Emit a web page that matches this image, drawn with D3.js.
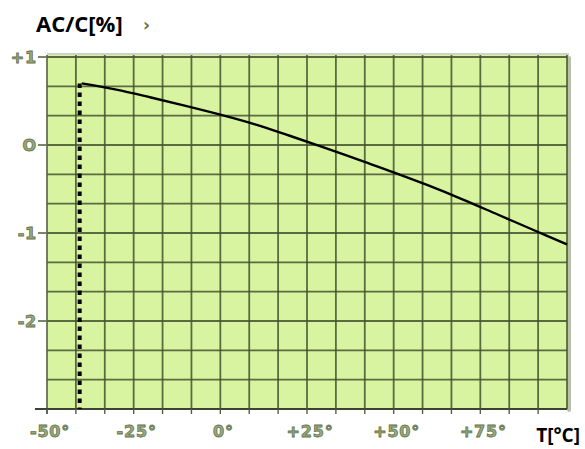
<!DOCTYPE html>
<html><head><meta charset="utf-8">
<script src="https://cdn.jsdelivr.net/npm/d3@7"></script>
<style>body{margin:0;background:#fff}svg{display:block}</style>
</head><body>
<script>
const temps = [-40, -30, -20, -10, 0, 10, 20, 30, 40, 50, 60, 70, 80, 90, 100];
const values = [0.70, 0.63, 0.54, 0.445, 0.345, 0.235, 0.105, -0.03, -0.17, -0.31, -0.46, -0.62, -0.79, -0.96, -1.13];
const xTickValues = [-50, -25, 0, 25, 50, 75];
const xTickLabels = ["-50°", "-25°", "0°", "+25°", "+50°", "+75°"];
const yTickValues = [1, 0, -1, -2];
const yTickLabels = ["+1", "O", "-1", "-2"];
const cutoffTemp = -40;

const W = 585, H = 449;
const svg = d3.select("body").append("svg").attr("width", W).attr("height", H);
const x = d3.scaleLinear().domain([-50, 100]).range([47, 567]);
const y = d3.scaleLinear().domain([-3, 1]).range([409, 57]);

// background
svg.append("rect").attr("x", x(100)).attr("y", 56).attr("width", 4).attr("height", y(-3) - 55 + 2)
  .attr("rx", 2).attr("fill", "#b9c0a8");
svg.append("rect").attr("x", x(-50)).attr("y", 53).attr("width", x(100) - x(-50) + 2).attr("height", 3).attr("fill", "#cdd3c6");
svg.append("rect").attr("x", x(-50)).attr("y", 55).attr("width", x(100) - x(-50)).attr("height", y(-3) - 55)
  .attr("fill", "#d8f4a0");

const gridX = d3.range(0, 19).map(i => -50 + i * 150 / 18);
const gridY = d3.range(0, 13).map(i => -3 + i / 3);
const gc = "#44522f";
svg.append("g").selectAll("line").data(gridX.slice(1)).join("line")
  .attr("x1", d => x(d)).attr("x2", d => x(d)).attr("y1", 55).attr("y2", y(-3))
  .attr("stroke", gc).attr("stroke-width", 1.8).attr("stroke-opacity", 0.85);
svg.append("g").selectAll("line").data(gridY.slice(1)).join("line")
  .attr("x1", x(-50)).attr("x2", x(100)).attr("y1", d => y(d)).attr("y2", d => y(d))
  .attr("stroke", gc).attr("stroke-width", 1.8).attr("stroke-opacity", 0.85);

// axes lines
svg.append("line").attr("x1", x(-50)).attr("x2", x(-50)).attr("y1", 55).attr("y2", y(-3) + 5)
  .attr("stroke", "#555f48").attr("stroke-width", 1.6);
svg.append("line").attr("x1", 35).attr("x2", x(100)).attr("y1", y(-3)).attr("y2", y(-3))
  .attr("stroke", "#3a4430").attr("stroke-width", 1.8);
// bottom ticks
svg.append("g").selectAll("line").data(gridX.slice(0, 18)).join("line")
  .attr("x1", d => x(d)).attr("x2", d => x(d)).attr("y1", y(-3)).attr("y2", y(-3) + 5)
  .attr("stroke", "#555f48").attr("stroke-width", 1.4);
// left ticks
svg.append("g").selectAll("line").data(yTickValues).join("line")
  .attr("x1", 38).attr("x2", x(-50)).attr("y1", d => y(d)).attr("y2", d => y(d))
  .attr("stroke", "#6b7a55").attr("stroke-width", 1.8);

const lblStyle = s => s.attr("font-family", "DejaVu Sans, sans-serif").attr("font-weight", "bold")
  .attr("font-size", 16).attr("letter-spacing", 0.8).attr("fill", "#9aab7c").attr("stroke", "#63724c").attr("stroke-width", 0.8);

svg.append("g").selectAll("text").data(yTickValues).join("text")
  .attr("x", 37).attr("y", d => y(d) + 6).attr("text-anchor", "end")
  .text((d, i) => yTickLabels[i]).call(lblStyle);
svg.append("g").selectAll("text").data(xTickValues).join("text")
  .attr("x", d => x(d) + 3).attr("y", 437).attr("text-anchor", "middle")
  .text((d, i) => xTickLabels[i]).call(lblStyle);

// dotted cutoff line
const startVal = values[temps.indexOf(cutoffTemp)];
svg.append("line").attr("x1", x(cutoffTemp) - 2).attr("x2", x(cutoffTemp) - 2)
  .attr("y1", y(startVal)).attr("y2", y(-3))
  .attr("stroke", "#000").attr("stroke-width", 4).attr("stroke-dasharray", "4.5,4.5");

// curve
const line = d3.line().x(d => x(d[0])).y(d => y(d[1])).curve(d3.curveCatmullRom);
svg.append("path").datum(temps.map((t, i) => [t, values[i]]))
  .attr("d", line).attr("fill", "none").attr("stroke", "#000").attr("stroke-width", 2.4);

// titles
svg.append("text").attr("x", 36).attr("y", 32).text("AC/C[%]")
  .attr("font-family", "Open Sans, sans-serif").attr("font-weight", "bold").attr("font-size", 22).attr("fill", "#000");
svg.append("text").attr("x", 143).attr("y", 31).text("›")
  .attr("font-family", "DejaVu Sans, sans-serif").attr("font-weight", "bold").attr("font-size", 17).attr("fill", "#5f6e40");
svg.append("text").attr("x", 580).attr("y", 442).attr("text-anchor", "end").text("T[°C]")
  .attr("font-family", "Open Sans, sans-serif").attr("font-weight", "bold").attr("font-size", 19).attr("fill", "#000");
</script>
</body></html>
